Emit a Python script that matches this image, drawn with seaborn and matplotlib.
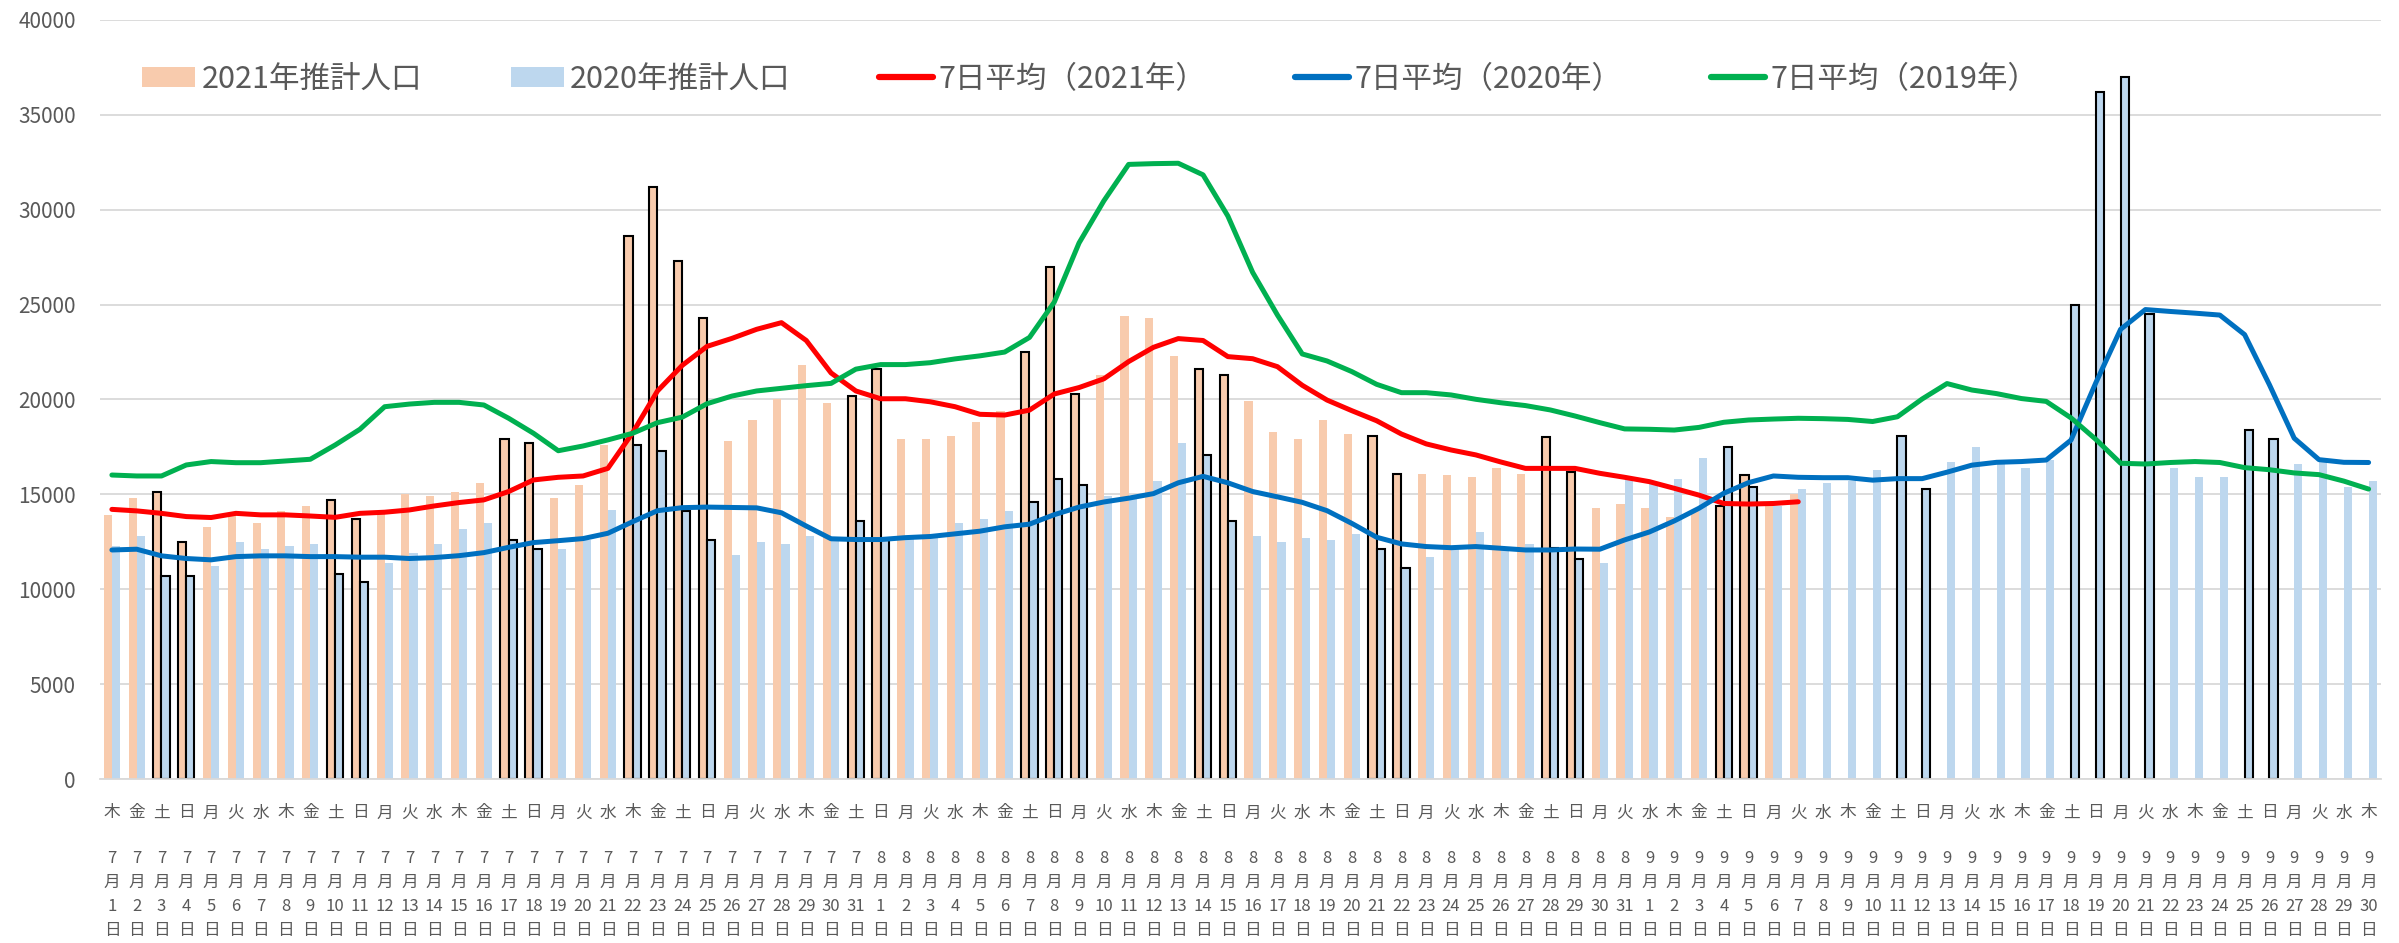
import numpy as np
import pandas as pd
import matplotlib
matplotlib.use("Agg")
import matplotlib.pyplot as plt
import matplotlib.transforms as mtransforms
from matplotlib.patches import Patch
from matplotlib.lines import Line2D
import seaborn as sns

# --- data ---
dates = pd.date_range("2021-07-01", "2021-09-30", freq="D")
weekday_names = ["月", "火", "水", "木", "金", "土", "日"]

# estimated population, 2021 (Jul 1 - Sep 7)
pop_2021 = [13900, 14800, 15100, 12500, 13300, 13900, 13500, 14100, 14400, 14700,
            13700, 14000, 15000, 14900, 15100, 15600, 17900, 17700, 14800, 15500,
            17600, 28600, 31200, 27300, 24300, 17800, 18900, 20000, 21800, 19800,
            20200, 21600, 17900, 17900, 18100, 18800, 19400, 22500, 27000, 20300,
            21300, 24400, 24300, 22300, 21600, 21300, 19900, 18300, 17900, 18900,
            18200, 18100, 16100, 16100, 16000, 15900, 16400, 16100, 18000, 16200,
            14300, 14500, 14300, 13800, 14100, 14400, 16000, 14500, 15000]

# estimated population, 2020 (aligned by weekday)
pop_2020 = [12300, 12800, 10700, 10700, 11200, 12500, 12100, 12300, 12400, 10800,
            10400, 11400, 11900, 12400, 13200, 13500, 12600, 12100, 12100, 12600,
            14200, 17600, 17300, 14100, 12600, 11800, 12500, 12400, 12800, 12600,
            13600, 12600, 12700, 12800, 13500, 13700, 14100, 14600, 15800, 15500,
            14900, 14800, 15700, 17700, 17100, 13600, 12800, 12500, 12700, 12600,
            12900, 12100, 11100, 11700, 12100, 13000, 12100, 12400, 12200, 11600,
            11400, 15800, 15600, 15800, 16900, 17500, 15400, 14400, 15300, 15600,
            15700, 16300, 18100, 15300, 16700, 17500, 16700, 16400, 16800, 25000,
            36200, 37000, 24500, 16400, 15900, 15900, 18400, 17900, 16600, 16700,
            15400, 15700]

avg_2021 = [14210, 14130, 14000, 13830, 13780, 14000, 13920, 13920, 13860, 13790,
            14000, 14060, 14180, 14390, 14570, 14710, 15150, 15760, 15900, 15970,
            16370, 18250, 20450, 21800, 22800, 23220, 23700, 24050, 23110, 21400,
            20450, 20040, 20040, 19880, 19620, 19220, 19180, 19440, 20290, 20630,
            21090, 22000, 22750, 23210, 23110, 22260, 22150, 21730, 20750, 19970,
            19410, 18880, 18180, 17660, 17340, 17080, 16710, 16370, 16370, 16370,
            16110, 15900, 15670, 15320, 14960, 14520, 14490, 14520, 14610]

avg_2020 = [12070, 12110, 11760, 11620, 11550, 11720, 11760, 11760, 11720, 11720,
            11690, 11690, 11620, 11670, 11770, 11930, 12210, 12460, 12560, 12670,
            12950, 13560, 14140, 14300, 14330, 14310, 14290, 14030, 13330, 12660,
            12620, 12620, 12720, 12780, 12920, 13060, 13290, 13430, 13930, 14330,
            14600, 14800, 15040, 15610, 15950, 15610, 15150, 14870, 14580, 14140,
            13470, 12740, 12390, 12250, 12190, 12250, 12160, 12070, 12070, 12120,
            12110, 12600, 13020, 13600, 14270, 15060, 15620, 15970, 15900, 15880,
            15880, 15750, 15830, 15830, 16170, 16540, 16690, 16730, 16810, 17860,
            20880, 23700, 24740, 24640, 24550, 24450, 23420, 20780, 17960, 16830,
            16690, 16680]

avg_2019 = [16020, 15970, 15970, 16550, 16730, 16670, 16670, 16760, 16850, 17600,
            18430, 19620, 19760, 19850, 19850, 19710, 19010, 18220, 17300, 17550,
            17870, 18220, 18780, 19070, 19780, 20180, 20450, 20590, 20730, 20850,
            21600, 21840, 21840, 21940, 22140, 22300, 22500, 23270, 25130, 28250,
            30470, 32390, 32430, 32450, 31840, 29670, 26700, 24450, 22400, 22030,
            21470, 20800, 20360, 20360, 20240, 20010, 19830, 19680, 19450, 19130,
            18780, 18450, 18430, 18390, 18530, 18800, 18920, 18970, 19010, 18990,
            18950, 18840, 19090, 20030, 20840, 20500, 20310, 20050, 19900, 19030,
            17900, 16640, 16600, 16680, 16730, 16680, 16410, 16300, 16130, 16040,
            15700, 15280]

# weekends / holidays drawn with a black outline
outlined_days = ["07-03", "07-04", "07-10", "07-11", "07-17", "07-18", "07-22", "07-23",
                 "07-24", "07-25", "07-31", "08-01", "08-07", "08-08", "08-09", "08-14",
                 "08-15", "08-21", "08-22", "08-28", "08-29", "09-04", "09-05", "09-11",
                 "09-12", "09-18", "09-19", "09-20", "09-21", "09-25", "09-26"]

series_names = ["2021年推計人口", "2020年推計人口"]
line_names = ["7日平均（2021年）", "7日平均（2020年）", "7日平均（2019年）"]

# --- styling ---
sns.set_theme(style="white")
plt.rcParams["font.family"] = ["Noto Sans CJK JP", "DejaVu Sans"]
text_gray = "#595959"
grid_gray = "#D9D9D9"
bar_colors = ["#F8CBAD", "#BDD7EE"]
line_colors = ["#FF0000", "#0070C0", "#00B050"]

n = len(dates)
rows = []
for i, v in enumerate(pop_2021):
    rows.append({"day": i, "series": series_names[0], "value": v})
for i, v in enumerate(pop_2020):
    rows.append({"day": i, "series": series_names[1], "value": v})
df = pd.DataFrame(rows)

fig = plt.figure(figsize=(23.99, 9.43), dpi=100)
ax = fig.add_axes([99.5 / 2399, 164 / 943, (2381 - 99.5) / 2399, 759 / 943])

sns.barplot(data=df, x="day", y="value", hue="series", hue_order=series_names,
            order=list(range(n)), palette=bar_colors, saturation=1, width=0.66,
            errorbar=None, linewidth=0, legend=False, ax=ax)

outlined_idx = {i for i, d in enumerate(dates) if d.strftime("%m-%d") in outlined_days}
for p in ax.patches:
    idx = int(round(p.get_x() + p.get_width() / 2))
    if idx in outlined_idx:
        p.set_edgecolor("black")
        p.set_linewidth(1.5)

for vals, col in zip([avg_2021, avg_2020, avg_2019], line_colors):
    sns.lineplot(x=np.arange(len(vals)), y=vals, color=col, lw=3.6, ax=ax,
                 solid_capstyle="round", legend=False)

ax.set_xlim(-0.5, n - 0.5)
ax.set_ylim(0, 40000)
ax.set_yticks(np.arange(0, 40001, 5000))
ax.yaxis.grid(True, color=grid_gray, lw=1.3)
ax.set_axisbelow(True)
ax.set_xlabel("")
ax.set_ylabel("")
for s in ["top", "right", "left"]:
    ax.spines[s].set_visible(False)
ax.spines["bottom"].set_color(grid_gray)
ax.spines["bottom"].set_linewidth(1.3)

ax.tick_params(axis="y", length=0, pad=17, labelsize=15, labelcolor=text_gray)

# x axis: stacked date labels + table-like cell lines
date_labels = [f"{d.month}\n月\n{d.day}\n日" for d in dates]
ax.set_xticks(np.arange(n))
ax.set_xticklabels(date_labels, fontsize=12, color=text_gray, linespacing=1.55)
ax.set_xticks(np.arange(-0.5, n, 1), minor=True)
ax.tick_params(axis="x", which="major", length=0, pad=51)
ax.tick_params(axis="x", which="minor", length=120, width=1, color=grid_gray, direction="out")

trans = mtransforms.blended_transform_factory(ax.transData, ax.transAxes)
for i, d in enumerate(dates):
    ax.text(i, -34 / 759, weekday_names[d.weekday()], transform=trans, ha="center",
            va="center", fontsize=12, color=text_gray)

handles = [Patch(facecolor=c, edgecolor="none") for c in bar_colors]
handles += [Line2D([], [], color=c, lw=4.5, solid_capstyle="round") for c in line_colors]
fig.legend(handles, series_names + line_names, loc="center", bbox_to_anchor=(0.4545, 0.916),
           ncol=5, frameon=False, fontsize=22, labelcolor=text_gray, handlelength=1.75,
           handleheight=0.65, handletextpad=0.2, columnspacing=2.9)

fig.savefig("out.png", dpi=100)
